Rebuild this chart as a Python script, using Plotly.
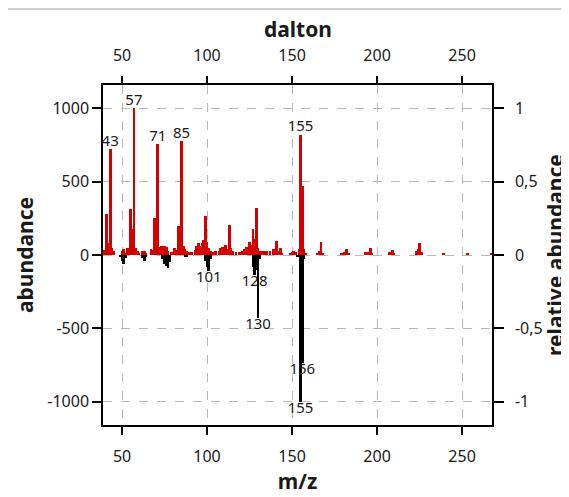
import plotly.graph_objects as go

# ---------------- data ----------------
red_mz = [39, 40, 41, 42, 43, 44, 45, 50, 51, 52, 53, 54, 55, 56, 57, 58, 59, 60, 62, 63, 64,
          67, 68, 69, 70, 71, 72, 73, 74, 75, 76, 77, 79, 81, 82, 83, 84, 85, 86, 87, 88, 89,
          91, 93, 94, 95, 96, 97, 98, 99, 100, 101, 102, 103, 105, 107, 108, 109, 110, 111, 112,
          113, 114, 115, 117, 119, 121, 122, 123, 124, 125, 126, 127, 128, 129, 130, 131, 132,
          133, 135, 137, 139, 140, 141, 142, 143, 144, 149, 150, 151, 152, 154, 155, 156, 157,
          158, 165, 166, 167, 168, 179, 181, 182, 183, 193, 195, 196, 197, 207, 208, 209, 210,
          223, 224, 225, 226, 239, 253, 267]
red_abund = [35, 25, 280, 80, 720, 50, 30, 30, 40, 15, 45, 30, 315, 180, 1000, 45, 25, 10, 30, 25, 10,
             40, 35, 255, 110, 755, 55, 60, 45, 60, 55, 30, 20, 45, 35, 200, 80, 775, 60, 40, 25, 20,
             20, 35, 60, 85, 60, 80, 100, 265, 90, 45, 25, 20, 25, 30, 45, 55, 40, 65, 40,
             205, 45, 25, 20, 20, 30, 40, 55, 45, 90, 70, 180, 110, 320, 50, 30, 25,
             30, 25, 25, 40, 30, 95, 25, 50, 15, 15, 20, 25, 20, 40, 820, 470, 40,
             15, 15, 30, 90, 15, 15, 20, 40, 15, 20, 20, 45, 15, 20, 20, 35, 15,
             25, 40, 85, 20, 12, 10, 12]

black_mz = [49, 50, 51, 52, 62, 63, 64, 74, 75, 76, 77, 78, 87, 88, 99, 100, 101, 102,
            127, 128, 129, 130, 131, 153, 155, 156, 157]
black_abund = [-15, -40, -60, -20, -20, -40, -15, -30, -60, -75, -90, -45, -10, -15, -40, -80, -110, -30,
               -80, -135, -100, -430, -30, -10, -1000, -735, -30]

red_labels = [43, 57, 71, 85, 155]
black_labels = [101, 128, 130, 156, 155]

x_ticks = [50, 100, 150, 200, 250]
y_ticks = [-1000, -500, 0, 500, 1000]
y_ticktext = ["-1000", "-500", "0", "500", "1000"]
rel_ticks = [-1, -0.5, 0, 0.5, 1]
rel_ticktext = ["-1", "-0,5", "0", "0,5", "1"]

# ---------------- figure ----------------
FONT = "Noto Sans"
TXT = "#1a1a1a"

red_lookup = dict(zip(red_mz, red_abund))
black_lookup = dict(zip(black_mz, black_abund))

fig = go.Figure()
fig.add_trace(go.Bar(x=red_mz, y=red_abund, width=1.6, marker=dict(color="#d40000", line=dict(width=0)),
                     hoverinfo="x+y", showlegend=False))
fig.add_trace(go.Bar(x=black_mz, y=black_abund, width=1.6, marker=dict(color="#000000", line=dict(width=0)),
                     hoverinfo="x+y", showlegend=False))
fig.add_trace(go.Scatter(x=red_labels, y=[red_lookup[m] for m in red_labels],
                         text=[str(m) for m in red_labels], mode="text", textposition="top center",
                         textfont=dict(family=FONT, size=15, color=TXT), cliponaxis=True,
                         showlegend=False, hoverinfo="skip"))
fig.add_trace(go.Scatter(x=black_labels, y=[black_lookup[m] for m in black_labels],
                         text=[str(m) for m in black_labels], mode="text", textposition="bottom center",
                         textfont=dict(family=FONT, size=15, color=TXT), cliponaxis=True,
                         showlegend=False, hoverinfo="skip"))
# secondary axes carrier
fig.add_trace(go.Scatter(x=[100], y=[0], xaxis="x2", yaxis="y2", mode="markers",
                         marker=dict(opacity=0), showlegend=False, hoverinfo="skip"))

XR = [38.8, 267.6]
YR = [-1160, 1160]

common_axis = dict(showline=True, linecolor="black", linewidth=1.5, ticks="outside",
                   tickcolor="black", tickwidth=1.5, zeroline=False, automargin=False,
                   tickfont=dict(family=FONT, size=16, color=TXT))
title_font = dict(family=FONT, size=21, color=TXT, weight="bold")

# page has an 8px body margin: figure is drawn 8px right/down
fig.update_layout(
    width=561, height=489,
    margin=dict(l=95, r=77, t=77, b=72),
    paper_bgcolor="white", plot_bgcolor="white",
    barmode="overlay", bargap=0,
    font=dict(family=FONT, color=TXT),
    xaxis=dict(range=XR, tickvals=x_ticks, ticklen=8, ticklabelstandoff=8, showgrid=True,
               gridcolor="#b8b8b8", griddash="dash", gridwidth=1,
               title=dict(text="m/z", font=title_font, standoff=6), **common_axis),
    xaxis2=dict(range=XR, overlaying="x", side="top", tickvals=x_ticks, ticklen=7,
                ticklabelstandoff=9, showgrid=False, **common_axis),
    yaxis=dict(range=YR, tickvals=y_ticks, ticktext=y_ticktext, ticklen=9, ticklabelstandoff=0,
               showgrid=True, gridcolor="#b8b8b8", griddash="dash", gridwidth=1,
               title=dict(text="abundance", font=title_font, standoff=8), **common_axis),
    yaxis2=dict(range=[YR[0] / 1000, YR[1] / 1000], overlaying="y", side="right", tickvals=rel_ticks,
                ticktext=rel_ticktext, ticklen=10, ticklabelstandoff=8, showgrid=False,
                title=dict(text="relative abundance", font=title_font, standoff=2), **common_axis),
    annotations=[
        dict(text="<b>dalton</b>", xref="paper", yref="paper", x=0.5, y=1.166, xanchor="center",
             yanchor="middle", showarrow=False, font=dict(family=FONT, size=21, color=TXT)),
    ],
    shapes=[
        dict(type="line", xref="paper", yref="paper", x0=-0.2519, x1=1.25, y0=1.2235, y1=1.2235,
             line=dict(color="#cfcfcf", width=2)),
        dict(type="line", xref="paper", yref="paper", x0=-0.2519, x1=-0.2519, y0=1.2235, y1=-0.25,
             line=dict(color="#cfcfcf", width=2)),
    ],
)

fig.write_html("out.html")
